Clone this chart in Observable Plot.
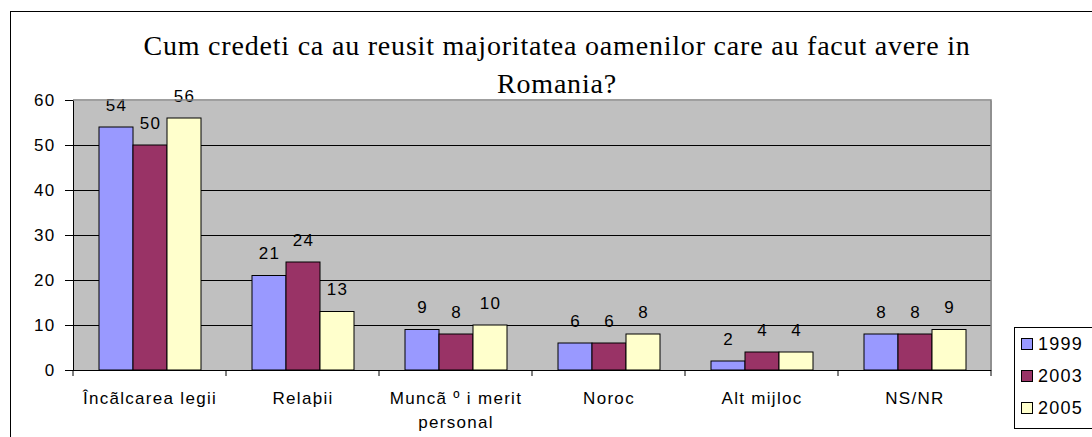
<!DOCTYPE html>
<html>
<head>
<meta charset="utf-8">
<script src="https://cdn.jsdelivr.net/npm/d3@7"></script>
<script src="https://cdn.jsdelivr.net/npm/@observablehq/plot@0.6"></script>
<style>
  body { margin: 0; width: 1092px; height: 437px; overflow: hidden; background: #fff; position: relative; font-family: "Liberation Sans", Arial, sans-serif; }
  #border { position: absolute; left: 10px; top: 11px; width: 1200px; height: 600px; border: 1px solid #000; }
  #title { position: absolute; left: 0; top: 27px; width: 1114px; text-align: center; font-family: "Liberation Serif", "Times New Roman", serif; font-size: 28px; letter-spacing: 0.8px; line-height: 38px; color: #000; }
  #chart { position: absolute; left: 0; top: 0; }
  #chart svg text { letter-spacing: 1.3px; }
  #legend { position: absolute; left: 1014px; top: 327px; width: 120px; height: 100px; border: 1px solid #000; background: #fff; }
  .item { position: absolute; left: 6px; height: 20px; display: flex; align-items: center; font-size: 18px; letter-spacing: 1.2px; color: #000; }
  .sw { width: 10px; height: 10px; border: 1px solid #000; margin-right: 5px; }
</style>
</head>
<body>
<div id="border"></div>
<div id="title"></div>
<div id="chart"></div>
<div id="legend"></div>
<script>
const titleLines = ["Cum credeti ca au reusit majoritatea oamenilor care au facut avere in", "Romania?"];
const categories = ["Încãlcarea legii", "Relaþii", "Muncã º i merit personal", "Noroc", "Alt mijloc", "NS/NR"];
const years = ["1999", "2003", "2005"];
const values1999 = [54, 21, 9, 6, 2, 8];
const values2003 = [50, 24, 8, 6, 4, 8];
const values2005 = [56, 13, 10, 8, 4, 9];
const yTicks = [0, 10, 20, 30, 40, 50, 60];
const colors = ["#9999FF", "#993366", "#FFFFCC"];

const seriesValues = [values1999, values2003, values2005];
const data = categories.flatMap((c, i) => years.map((yr, j) => ({cat: c, year: yr, value: seriesValues[j][i]})));

document.getElementById("title").innerHTML = titleLines.join("<br>");

const chart = Plot.plot({
  width: 1092,
  height: 437,
  marginLeft: 71,
  marginRight: 100,
  marginTop: 100,
  marginBottom: 67,
  style: {fontFamily: "'Liberation Sans', Arial, sans-serif", fontSize: "17px", color: "#000", background: "transparent", overflow: "visible"},
  fx: {domain: categories, padding: 0, label: null},
  x: {domain: years, paddingInner: 0, paddingOuter: 0.7, axis: null},
  y: {domain: [0, 60], ticks: yTicks, tickSize: 8, tickPadding: 10, line: true, label: null},
  color: {domain: years, range: colors},
  marks: [
    Plot.frame({fill: "#C0C0C0", stroke: null, shapeRendering: "crispEdges"}),
    Plot.ruleY(yTicks.filter(t => t > 0 && t < 60), {stroke: "#000", strokeWidth: 1, shapeRendering: "crispEdges"}),
    Plot.barY(data, {fx: "cat", x: "year", y: "value", fill: "year", stroke: "#000", strokeWidth: 1}),
    Plot.text(data, {fx: "cat", x: "year", y: "value", text: d => String(d.value), lineAnchor: "bottom", dy: -17, fill: "#000"}),
    Plot.ruleY([0], {stroke: "#000", strokeWidth: 1}),
    Plot.axisFx({anchor: "bottom", tickSize: 0, tickPadding: 17, label: null, lineHeight: 1.4, tickFormat: d => d.replace(" personal", "\npersonal")})
  ]
});

// plot-area border (top/right) and category boundary ticks, derived from the scales
const fx = chart.scale("fx");
const ys = chart.scale("y");
const y0 = ys.apply(0), yTop = ys.apply(60);
const bounds = categories.map(c => fx.apply(c));
bounds.push(fx.apply(categories[categories.length - 1]) + fx.bandwidth);
const left = bounds[0], right = bounds[bounds.length - 1];
const g = d3.select(chart).append("g");
g.append("path").attr("d", `M${left},${yTop}H${right}V${y0}`).attr("fill", "none").attr("stroke", "#808080").attr("stroke-width", 1.5);
g.selectAll("line.bt").data(bounds).join("line")
  .attr("x1", d => d).attr("x2", d => d).attr("y1", y0).attr("y2", y0 + 6)
  .attr("stroke", "#000");
document.getElementById("chart").appendChild(chart);

const legend = document.getElementById("legend");
years.forEach((yr, i) => {
  const item = document.createElement("div");
  item.className = "item";
  item.style.top = (6 + i * 32) + "px";
  const sw = document.createElement("div");
  sw.className = "sw";
  sw.style.background = colors[i];
  item.appendChild(sw);
  item.appendChild(document.createTextNode(yr));
  legend.appendChild(item);
});
</script>
</body>
</html>
